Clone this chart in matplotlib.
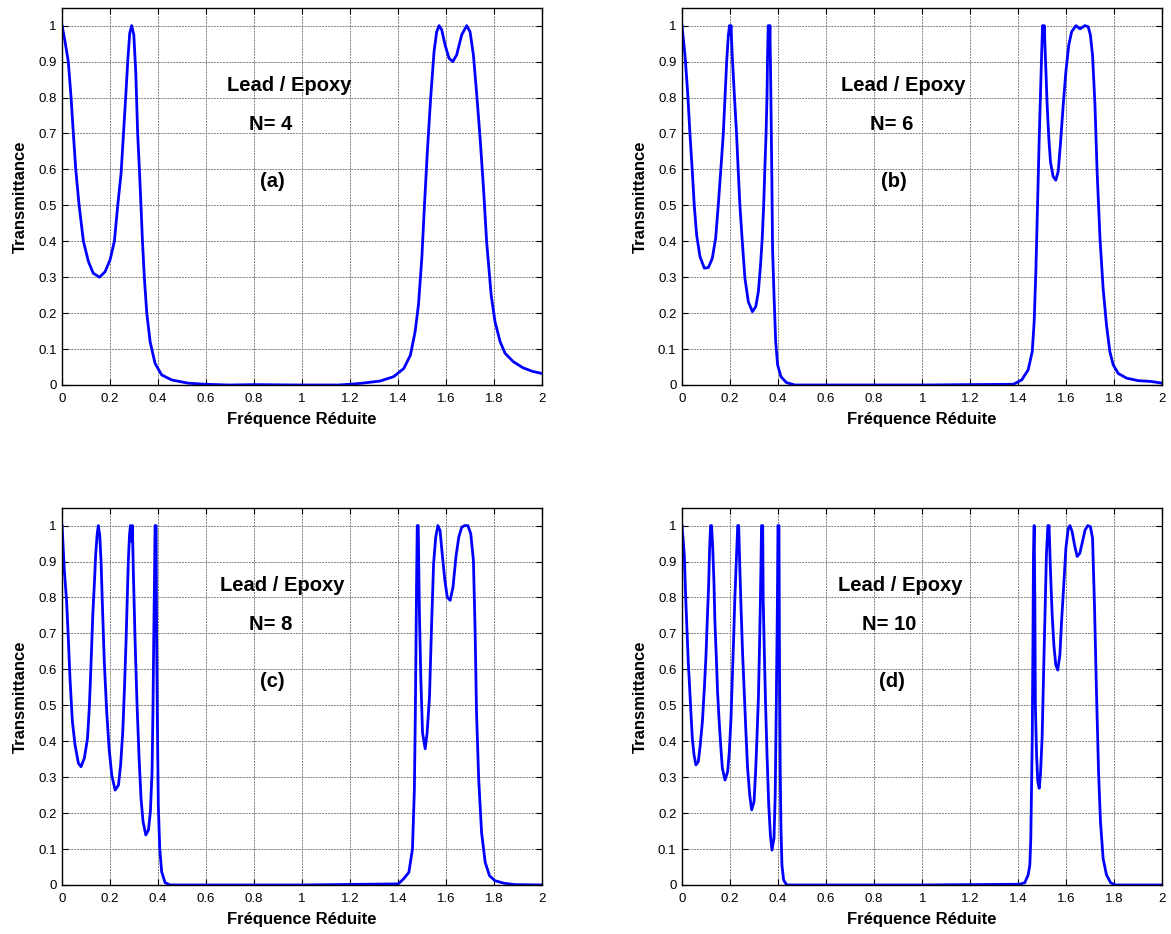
import numpy as np
import matplotlib
matplotlib.use("Agg")
import matplotlib.pyplot as plt
from matplotlib.ticker import FormatStrFormatter

plt.rcParams['font.family'] = ['Liberation Sans', 'DejaVu Sans']

# ---- donnees : (frequence reduite, transmittance) ----
x_a = [0, .0125, .026, .0375, .047, .057, .071, .089, .11, .13, .156, .179, .2, .218,
       .232, .246, .256, .265, .274, .282, .29, .299, .307, .315, .322, .329, .335,
       .343, .353, .367, .3875, .415, .457, .526, .596, .693, .8, 1.0, 1.15, 1.2,
       1.25, 1.3, 1.325, 1.381, 1.424, 1.4514, 1.471, 1.485, 1.499, 1.51, 1.522,
       1.536, 1.55, 1.561, 1.571, 1.582, 1.596, 1.6125, 1.628, 1.644, 1.665, 1.686,
       1.7, 1.714, 1.728, 1.742, 1.756, 1.769, 1.788, 1.804, 1.825, 1.846, 1.88,
       1.92, 1.96, 2.0]
y_a = [1.0, .955, .90, .80, .70, .60, .50, .40, .343, .311, .30, .315, .348, .40,
       .50, .59, .70, .80, .905, .979, 1.0, .974, .872, .70, .603, .496, .40,
       .297, .20, .12, .06, .028, .014, .005, .002, 0, .001, 0, 0, .002,
       .005, .009, .011, .023, .046, .083, .148, .223, .353, .50, .649,
       .80, .928, .983, 1.0, .988, .946, .909, .90, .918, .974, 1.0,
       .983, .918, .807, .686, .547, .399, .25, .176, .121, .088, .065,
       .048, .038, .032]

x_b = [0, .0125, .024, .033, .043, .051, .061, .075, .093, .11, .126, .14, .151, .162,
       .172, .179, .186, .193, .198, .201, .204, .209, .218, .227, .234, .241, .251,
       .262, .276, .293, .307, .318, .327, .334, .34, .345, .35, .354, .356, .359,
       .363, .366, .37, .374, .377, .383, .39, .398, .412, .435, .47, 1.0, 1.379,
       1.414, 1.441, 1.458, 1.466, 1.473, 1.48, 1.487, 1.493, 1.497, 1.501, 1.505,
       1.508, 1.514, 1.52, 1.527, 1.534, 1.545, 1.556, 1.566, 1.575, 1.587, 1.598,
       1.61, 1.622, 1.64, 1.657, 1.677, 1.691, 1.7, 1.709, 1.719, 1.728, 1.74,
       1.753, 1.767, 1.781, 1.795, 1.816, 1.851, 1.9, 1.95, 2.0]
y_b = [1.0, .918, .81, .70, .594, .50, .417, .357, .325, .327, .352, .408, .50, .603,
       .70, .80, .90, .974, 1.0, .975, 1.0, .918, .807, .70, .598, .50, .399,
       .297, .232, .204, .218, .26, .334, .408, .50, .603, .70, .807, .909, 1.0,
       .918, 1.0, .807, .575, .38, .25, .121, .056, .023, .0065, 0, 0, .002,
       .014, .042, .093, .176, .315, .50, .686, .826, .918, 1.0, .956,
       1.0, .89, .78, .686, .62, .58, .57, .594, .668, .78, .872,
       .946, .983, 1.0, .991, 1.0, .997, .974, .918, .78, .594, .408,
       .269, .167, .093, .056, .032, .019, .012, .01, .005]

x_c = [0, .0097, .019, .026, .033, .043, .054, .068, .079, .093, .106, .114, .121, .128,
       .135, .14, .146, .151, .157, .1625, .168, .176, .186, .196, .207, .221, .235,
       .244, .253, .26, .267, .272, .276, .281, .285, .289, .293, .297, .304, .3125,
       .321, .329, .3375, .349, .36, .368, .375, .379, .382, .385, .3875, .392, .394,
       .397, .401, .407, .415, .429, .45, 1.0, 1.401, 1.423, 1.445, 1.46, 1.468,
       1.472, 1.477, 1.48, 1.484, 1.489, 1.495, 1.502, 1.513, 1.521, 1.531, 1.539,
       1.548, 1.557, 1.566, 1.575, 1.584, 1.595, 1.605, 1.617, 1.629, 1.641, 1.653,
       1.665, 1.677, 1.691, 1.703, 1.714, 1.721, 1.727, 1.736, 1.748, 1.763, 1.781,
       1.803, 1.84, 1.885, 2.0]
y_c = [1.0, .872, .789, .686, .575, .455, .39, .339, .329, .353, .408, .50, .62, .751,
       .844, .918, .974, 1.0, .974, .90, .78, .62, .482, .38, .306, .264, .278,
       .334, .427, .547, .686, .807, .90, .974, 1.0, .956, 1.0, .872, .686, .50,
       .353, .241, .176, .139, .153, .204, .315, .50, .686, .844, 1.0, 1.0, .686,
       .464, .223, .102, .037, .0065, 0, 0, .003, .017, .035, .10, .266,
       .478, .829, 1.0, 1.0, .755, .571, .423, .379, .423, .524, .709,
       .894, .968, 1.0, .986, .921, .848, .801, .792, .829, .912, .968,
       .995, 1.0, 1.0, .977, .903, .709, .478, .294, .146, .063, .026,
       .012, .005, .001, 0]

x_d = [0, .0097, .015, .021, .026, .032, .037, .043, .05, .058, .068, .076, .085, .093,
       .1, .105, .111, .115, .119, .123, .128, .133, .137, .143, .148, .154, .161,
       .168, .179, .19, .197, .204, .209, .215, .22, .226, .232, .236, .24, .2455,
       .252, .259, .266, .273, .282, .29, .3, .3065, .313, .318, .322, .326, .329,
       .331, .336, .338, .343, .348, .354, .361, .368, .3745, .383, .388, .3925, .397,
       .3995, .4036, .406, .409, .412, .416, .423, .4355, 1.0, 1.406, 1.427, 1.441,
       1.448, 1.452, 1.455, 1.458, 1.461, 1.463, 1.466, 1.469, 1.471, 1.476, 1.481,
       1.487, 1.492, 1.499, 1.506, 1.512, 1.517, 1.523, 1.528, 1.534, 1.541, 1.548,
       1.556, 1.564, 1.573, 1.58, 1.59, 1.598, 1.608, 1.615, 1.624, 1.634, 1.645,
       1.656, 1.667, 1.678, 1.689, 1.7, 1.709, 1.717, 1.725, 1.734, 1.742, 1.753,
       1.767, 1.784, 1.802, 2.0]
y_d = [1.0, .918, .807, .705, .622, .547, .482, .408, .362, .334, .343, .39, .455, .547,
       .64, .733, .835, .937, 1.0, 1.0, .937, .844, .733, .631, .538, .464, .39,
       .325, .292, .315, .371, .464, .566, .686, .798, .90, 1.0, 1.0, .90, .779,
       .649, .538, .427, .325, .25, .209, .232, .315, .427, .519, .64, .779, .90,
       1.0, 1.0, .798, .64, .50, .362, .223, .139, .097, .13, .25, .50, .779,
       1.0, 1.0, .594, .315, .158, .056, .014, 0, 0, .002, .0065, .028,
       .056, .13, .269, .408, .686, .918, 1.0, .779, .50, .362, .288,
       .269, .306, .408, .612, .779, .918, 1.0, 1.0, .872, .751, .668,
       .612, .598, .64, .733, .844, .937, .993, 1.0, .983, .946, .914,
       .923, .955, .988, 1.0, .997, .965, .779, .547, .315, .176, .074,
       .028, .0065, 0, 0]

series = [(x_a, y_a, "N= 4", "(a)"), (x_b, y_b, "N= 6", "(b)"),
          (x_c, y_c, "N= 8", "(c)"), (x_d, y_d, "N= 10", "(d)")]
# position du texte (x centre) : Lead / Epoxy, N=, lettre
text_x = [(0.946, 0.869, 0.875), (0.919, 0.874, 0.883),
          (0.916, 0.869, 0.875), (0.907, 0.864, 0.873)]

fig = plt.figure(figsize=(11.71, 9.34), dpi=100)
rects = [[0.0530, 0.5878, 0.4099, 0.4040], [0.5824, 0.5878, 0.4103, 0.4040],
         [0.0530, 0.0525, 0.4099, 0.4040], [0.5824, 0.0525, 0.4103, 0.4040]]

for i, (x, y, ntxt, lettre) in enumerate(series):
    ax = fig.add_axes(rects[i])
    ax.plot(x, y, color='#0000ff', linewidth=2)
    ax.set_xlim(0, 2)
    ax.set_ylim(0, 1.05)
    ax.set_xticks(np.arange(0, 2.01, 0.2))
    ax.set_yticks(np.arange(0, 1.01, 0.1))
    ax.xaxis.set_major_formatter(FormatStrFormatter('%g'))
    ax.yaxis.set_major_formatter(FormatStrFormatter('%g'))
    ax.tick_params(direction='in', top=True, right=True, labelsize=9.5,
                   length=4, width=0.8)
    ax.tick_params(axis='x', pad=5.5)
    ax.tick_params(axis='y', pad=4)
    ax.grid(True, color='0.5', linestyle=(0, (2, 1)), linewidth=0.7)
    for s in ax.spines.values():
        s.set_linewidth(1.0)
    ax.set_xlabel("Fréquence Réduite", fontsize=12, fontweight='bold', labelpad=5)
    ax.set_ylabel("Transmittance", fontsize=12, fontweight='bold', labelpad=7)
    tx = text_x[i]
    ax.text(tx[0], 0.834, "Lead / Epoxy", fontsize=14.5, fontweight='bold',
            ha='center', va='center')
    ax.text(tx[1], 0.726, ntxt, fontsize=14.5, fontweight='bold',
            ha='center', va='center')
    ax.text(tx[2], 0.566, lettre, fontsize=14.5, fontweight='bold',
            ha='center', va='center')

plt.savefig("out.png", dpi=100)
